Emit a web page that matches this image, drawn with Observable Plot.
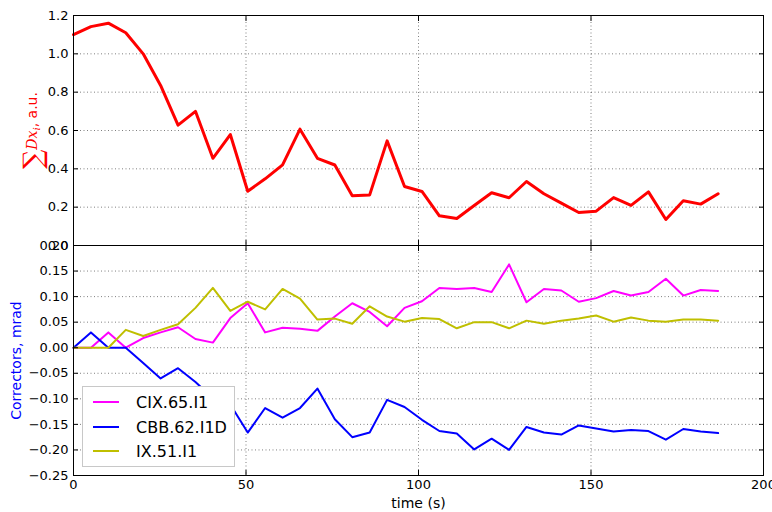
<!DOCTYPE html>
<html><head><meta charset="utf-8">
<script src="https://cdn.jsdelivr.net/npm/d3@7"></script>
<script src="https://cdn.jsdelivr.net/npm/@observablehq/plot@0.6"></script>
<style>
body{margin:0;background:#fff;font-family:"DejaVu Sans",sans-serif;}
#wrap{position:relative;width:772px;height:512px;overflow:hidden;}
#wrap > svg{position:absolute;left:0;}
#legend{position:absolute;left:82px;top:386px;width:153px;height:81px;border:1px solid #c8c8c8;background:#fff;box-sizing:border-box;}
.lrow{position:absolute;left:0;height:20px;display:flex;align-items:center;font-size:16px;color:#000;}
</style></head><body><div id="wrap"></div>
<script>
const time = [0,5.05,10.1,15.15,20.2,25.25,30.3,35.35,40.4,45.45,50.5,55.55,60.6,65.65,70.7,75.75,80.8,85.85,90.9,95.95,101.0,106.05,111.1,116.15,121.2,126.25,131.3,136.35,141.4,146.45,151.5,156.55,161.6,166.65,171.7,176.75,181.8,186.85];
const sumDx = [1.10,1.142,1.16,1.11,1.00,0.835,0.628,0.70,0.455,0.579,0.283,0.348,0.421,0.607,0.455,0.42,0.259,0.264,0.546,0.308,0.282,0.155,0.141,0.209,0.275,0.249,0.334,0.27,0.221,0.172,0.179,0.25,0.209,0.28,0.136,0.233,0.216,0.27];
const cix65 = [0,0,0.030,0,0.019,0.03,0.040,0.017,0.010,0.058,0.087,0.030,0.039,0.037,0.033,0.061,0.087,0.070,0.042,0.078,0.091,0.117,0.115,0.117,0.109,0.163,0.089,0.115,0.112,0.090,0.097,0.111,0.102,0.109,0.135,0.102,0.113,0.111];
const cbb62 = [0,0.030,0,0,-0.030,-0.060,-0.040,-0.067,-0.099,-0.111,-0.166,-0.118,-0.137,-0.118,-0.080,-0.140,-0.175,-0.166,-0.102,-0.116,-0.141,-0.163,-0.168,-0.199,-0.178,-0.200,-0.155,-0.166,-0.170,-0.152,-0.158,-0.164,-0.161,-0.163,-0.180,-0.159,-0.164,-0.167];
const ix51 = [0,0,0,0.035,0.023,0.035,0.046,0.078,0.117,0.072,0.090,0.075,0.115,0.096,0.055,0.057,0.047,0.081,0.061,0.051,0.058,0.056,0.038,0.050,0.050,0.038,0.053,0.047,0.053,0.057,0.063,0.051,0.059,0.053,0.051,0.055,0.055,0.053];
const seriesNames = ["CIX.65.I1","CBB.62.I1D","IX.51.I1"];
const seriesColors = ["#ff00ff","#0000ff","#bfbf00"];
const xTicks = [0,50,100,150,200];
const topTicks = [0,0.2,0.4,0.6,0.8,1.0,1.2];
const botTicks = [-0.25,-0.20,-0.15,-0.10,-0.05,0,0.05,0.10,0.15,0.20];
const topLabel = "∑Dxi, a.u.";
const botLabel = "Correctors, mrad";
const xLabel = "time (s)";

const topData = time.map((t,i)=>({t, v: sumDx[i]}));
const botData = [cix65,cbb62,ix51].flatMap((arr,k)=>arr.map((v,i)=>({t: time[i], v, s: seriesNames[k]})));

const style = {fontFamily:"DejaVu Sans", fontSize:"13px", color:"#000", background:"transparent", overflow:"visible"};
const grid = {stroke:"#000", strokeOpacity:0.5, strokeDasharray:"1,2.5", strokeWidth:1};
const inward = (ticksX, ticksY) => [
  Plot.axisX(ticksX,{anchor:"bottom", tickSize:-5, tickFormat:()=>"", label:null}),
  Plot.axisX(ticksX,{anchor:"top", tickSize:-5, tickFormat:()=>"", label:null}),
  Plot.axisY(ticksY,{anchor:"left", tickSize:-5, tickFormat:()=>"", label:null}),
  Plot.axisY(ticksY,{anchor:"right", tickSize:-5, tickFormat:()=>"", label:null})
];

const topPlot = Plot.plot({
  width:772, height:260, marginTop:15, marginBottom:15, marginLeft:73, marginRight:9,
  x:{domain:[0,200], label:null}, y:{domain:[0,1.2], label:null},
  style,
  marks:[
    Plot.gridX(xTicks, grid),
    Plot.gridY(topTicks, grid),
    Plot.line(topData,{x:"t", y:"v", stroke:"#ff0000", strokeWidth:3}),
    Plot.frame({stroke:"#000", strokeWidth:1}),
    ...inward(xTicks, topTicks),
    Plot.axisY(topTicks,{anchor:"left", tickSize:0, tickPadding:5, tickFormat:d3.format(".1f"), label:null}),
    Plot.text([topLabel],{frameAnchor:"left", dx:-41, rotate:-90, textAnchor:"middle", lineAnchor:"middle", fill:"#ff0000", fontSize:14})
  ]
});
topPlot.style.top = "0px";

const botPlot = Plot.plot({
  width:772, height:267, marginTop:0, marginBottom:37, marginLeft:73, marginRight:9,
  x:{domain:[0,200], label:null}, y:{domain:[-0.25,0.2], label:null},
  color:{domain:seriesNames, range:seriesColors},
  style,
  marks:[
    Plot.gridX(xTicks, grid),
    Plot.gridY(botTicks, grid),
    Plot.line(botData,{x:"t", y:"v", stroke:"s", z:"s", strokeWidth:2}),
    Plot.frame({stroke:"#000", strokeWidth:1}),
    ...inward(xTicks, botTicks),
    Plot.axisY(botTicks,{anchor:"left", tickSize:0, tickPadding:5, tickFormat:d3.format(".2f"), label:null}),
    Plot.axisX(xTicks,{anchor:"bottom", tickSize:0, tickPadding:4, tickFormat:d=>String(d), label:null}),
    Plot.text([xLabel],{frameAnchor:"bottom", dy:28, textAnchor:"middle", lineAnchor:"middle", fontSize:14}),
    Plot.text([botLabel],{frameAnchor:"left", dx:-57, rotate:-90, textAnchor:"middle", lineAnchor:"middle", fill:"#0000ff", fontSize:14})
  ]
});
botPlot.style.top = "245px";

const wrap = document.getElementById("wrap");
wrap.appendChild(topPlot);
wrap.appendChild(botPlot);

// math-style label
const ns = "http://www.w3.org/2000/svg";
const lab = [...topPlot.querySelectorAll("text")].find(t=>t.textContent===topLabel);
if (lab) {
  lab.textContent = "";
  const parts = [
    {s:"∑", attrs:{"font-size":"27","font-family":"DejaVu Serif","dy":"5"}},
    {s:"Dx", attrs:{"font-style":"italic","font-family":"DejaVu Serif","font-size":"14","dy":"-5"}},
    {s:"i", attrs:{"font-style":"italic","font-family":"DejaVu Serif","font-size":"10","dy":"3"}},
    {s:", a.u.", attrs:{"font-size":"14","dy":"-3"}}
  ];
  for (const p of parts) {
    const ts = document.createElementNS(ns,"tspan");
    for (const k in p.attrs) ts.setAttribute(k,p.attrs[k]);
    ts.textContent = p.s;
    lab.appendChild(ts);
  }
}

// legend
const leg = document.createElement("div");
leg.id = "legend";
const rowTops = [5, 30, 54];
seriesNames.forEach((name,k)=>{
  const r = document.createElement("div");
  r.className = "lrow";
  r.style.top = rowTops[k] + "px";
  r.innerHTML = `<svg width="53" height="20"><line x1="10" x2="36" y1="10" y2="10" stroke="${seriesColors[k]}" stroke-width="2"/></svg><span>${name}</span>`;
  leg.appendChild(r);
});
wrap.appendChild(leg);
</script></body></html>
